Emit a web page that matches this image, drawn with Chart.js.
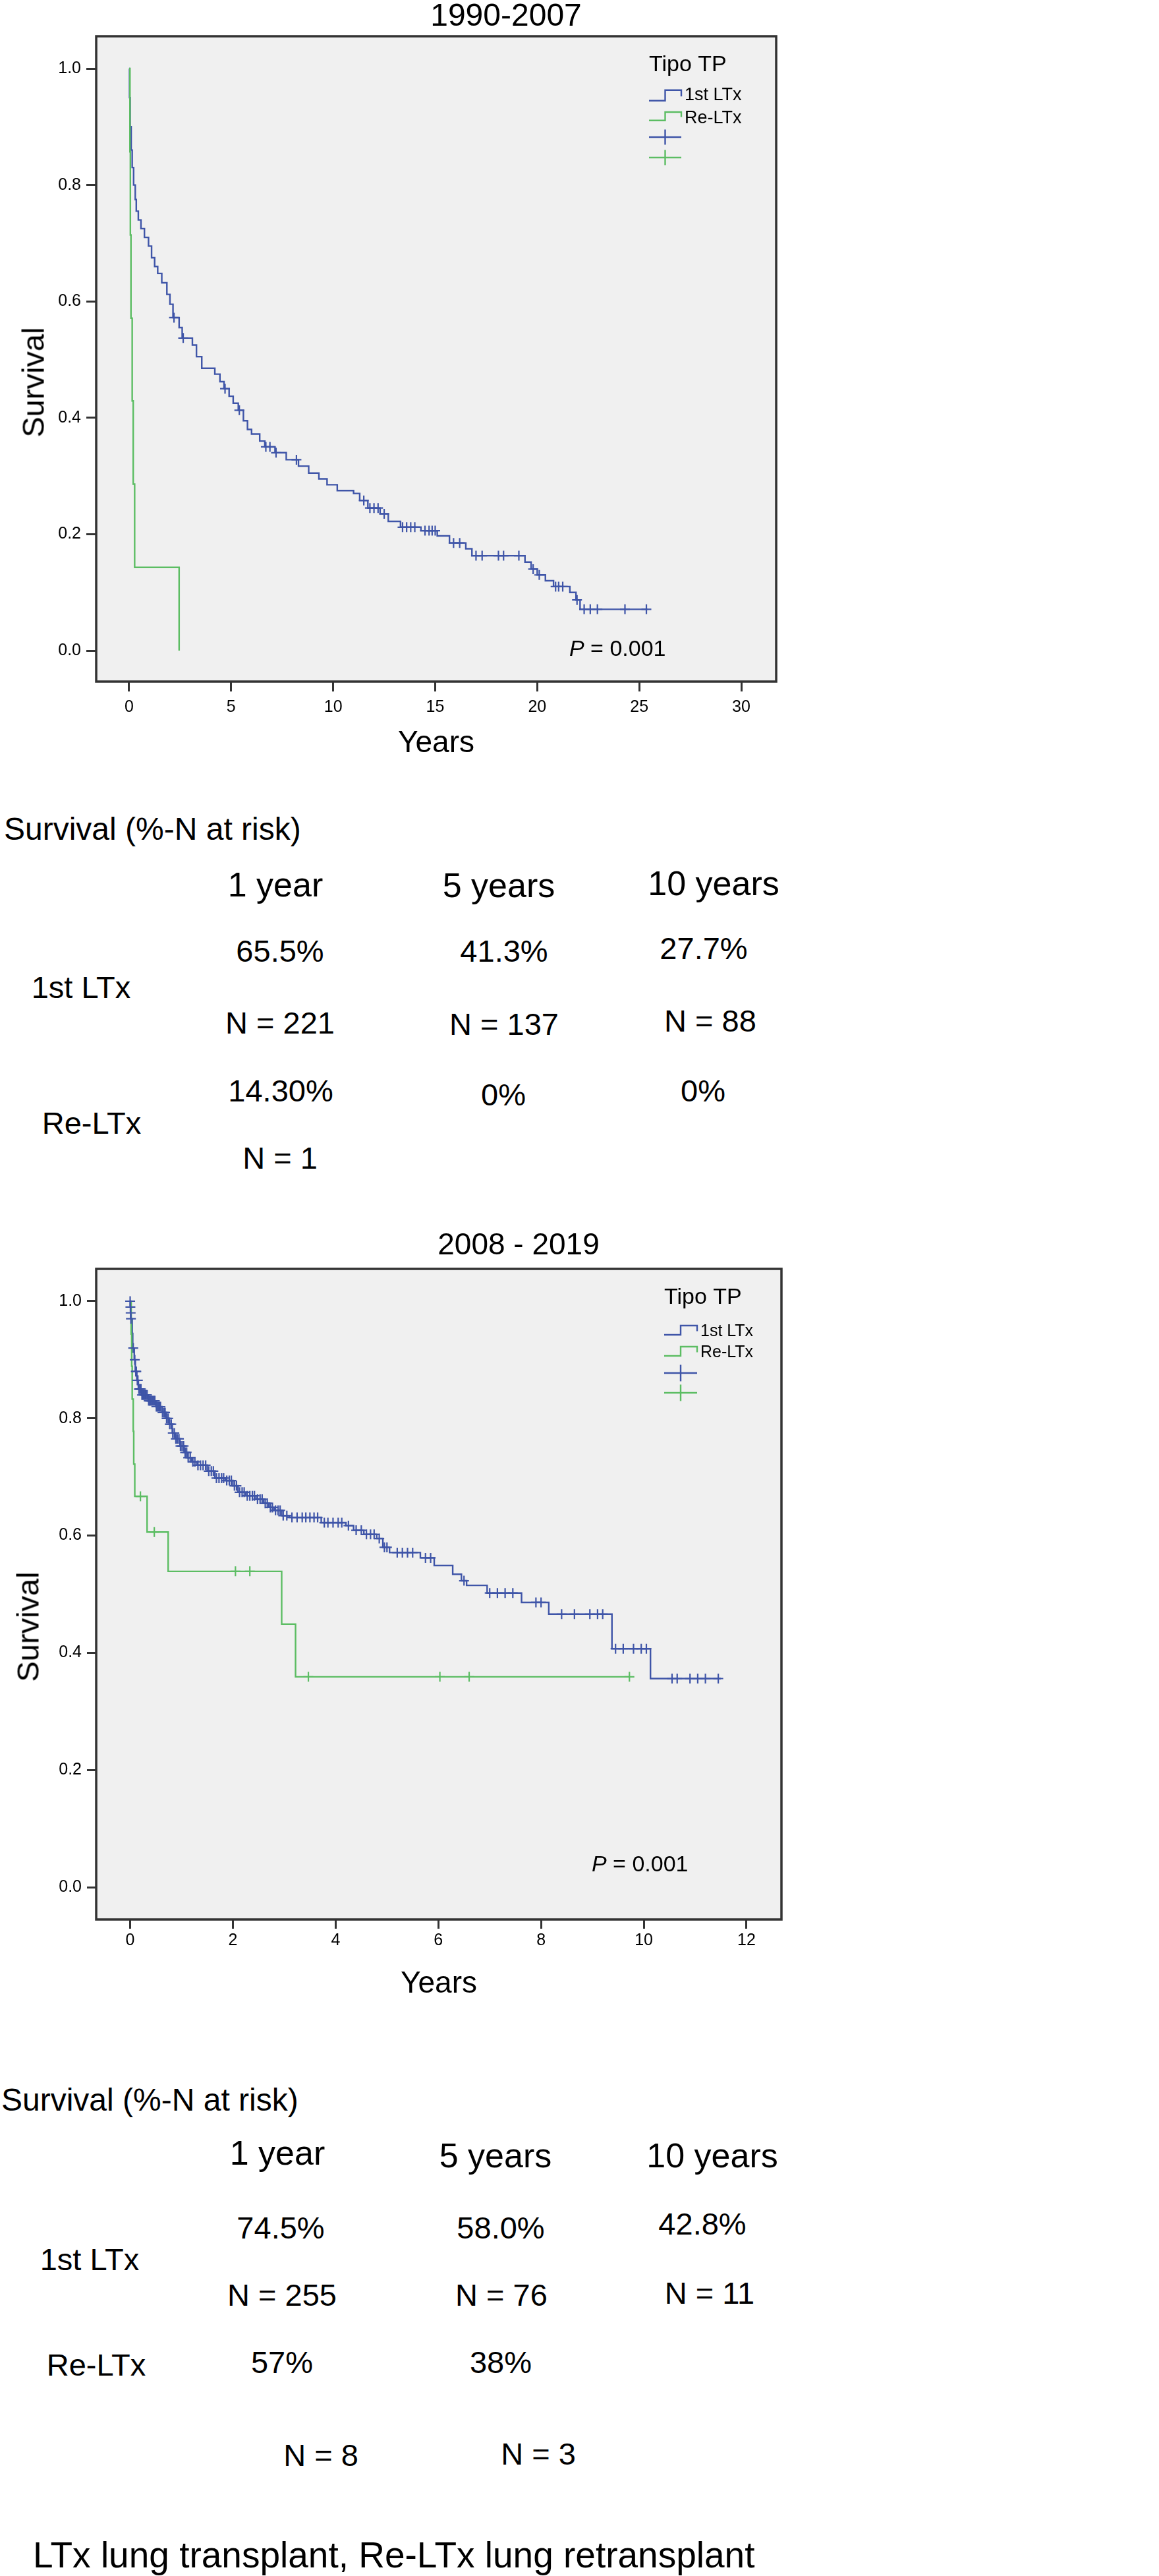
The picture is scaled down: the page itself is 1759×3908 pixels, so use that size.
<!DOCTYPE html>
<html><head><meta charset="utf-8">
<script src="https://cdn.jsdelivr.net/npm/chart.js@4.4.1/dist/chart.umd.min.js"></script>
<style>
html,body{margin:0;padding:0;background:#fff;}
body{width:1759px;height:3908px;position:relative;overflow:hidden;font-family:"Liberation Sans",Arial,Helvetica,sans-serif;color:#000;}
canvas{position:absolute;left:0;}
.t{position:absolute;white-space:nowrap;transform:translate(-50%,-50%);line-height:1;}
.l{position:absolute;white-space:nowrap;transform:translateY(-50%);line-height:1;}
.yt{position:absolute;white-space:nowrap;transform:translate(-50%,-50%) rotate(-90deg);line-height:1;font-size:47px;}
.h{font-size:52px;}
.v{font-size:47px;}
</style></head><body>
<canvas id="c1" width="1536" height="1170" style="top:0px"></canvas>
<canvas id="c2" width="1574" height="1220" style="top:1840px"></canvas>

<div class="yt" style="left:50px;top:580px">Survival</div>
<div class="yt" style="left:42px;top:2468px">Survival</div>

<!-- table 1990-2007 -->
<div class="l" style="left:6px;top:1258px;font-size:48px">Survival (%-N at risk)</div>
<div class="t h" style="left:418px;top:1342px">1 year</div>
<div class="t h" style="left:757px;top:1343px">5 years</div>
<div class="t h" style="left:1083px;top:1340px">10 years</div>
<div class="t v" style="left:425px;top:1442px">65.5%</div>
<div class="t v" style="left:765px;top:1442px">41.3%</div>
<div class="t v" style="left:1068px;top:1438px">27.7%</div>
<div class="t v" style="left:123px;top:1497px">1st LTx</div>
<div class="t v" style="left:425px;top:1551px">N = 221</div>
<div class="t v" style="left:765px;top:1553px">N = 137</div>
<div class="t v" style="left:1078px;top:1548px">N = 88</div>
<div class="t v" style="left:426px;top:1654px">14.30%</div>
<div class="t v" style="left:764px;top:1660px">0%</div>
<div class="t v" style="left:1067px;top:1654px">0%</div>
<div class="t v" style="left:139px;top:1703px">Re-LTx</div>
<div class="t v" style="left:425px;top:1756px">N = 1</div>

<!-- table 2008-2019 -->
<div class="l" style="left:2px;top:3186px;font-size:48px">Survival (%-N at risk)</div>
<div class="t h" style="left:421px;top:3266px">1 year</div>
<div class="t h" style="left:752px;top:3270px">5 years</div>
<div class="t h" style="left:1081px;top:3270px">10 years</div>
<div class="t v" style="left:426px;top:3379px">74.5%</div>
<div class="t v" style="left:760px;top:3379px">58.0%</div>
<div class="t v" style="left:1066px;top:3373px">42.8%</div>
<div class="t v" style="left:136px;top:3427px">1st LTx</div>
<div class="t v" style="left:428px;top:3481px">N = 255</div>
<div class="t v" style="left:761px;top:3481px">N = 76</div>
<div class="t v" style="left:1077px;top:3478px">N = 11</div>
<div class="t v" style="left:146px;top:3587px">Re-LTx</div>
<div class="t v" style="left:428px;top:3583px">57%</div>
<div class="t v" style="left:760px;top:3583px">38%</div>
<div class="t v" style="left:487px;top:3724px">N = 8</div>
<div class="t v" style="left:817px;top:3722px">N = 3</div>

<div class="l" style="left:50px;top:3876px;font-size:55px">LTx lung transplant, Re-LTx lung retransplant</div>

<script>
// ---------- data ----------
const seriesLabels = ['1st LTx', 'Re-LTx'];
const legendTitle = 'Tipo TP';
const pText = '= 0.001';
const yTicks = [0, 0.2, 0.4, 0.6, 0.8, 1.0];
const xTicks1 = [0, 5, 10, 15, 20, 25, 30];
const xTicks2 = [0, 2, 4, 6, 8, 10, 12];

// 1990-2007, 1st LTx (event times, survival)
const t1Blue = [0,0.02,0.05,0.1,0.15,0.22,0.3,0.35,0.45,0.58,0.75,0.95,1.1,1.25,1.4,1.6,1.85,2.0,2.15,2.45,2.6,3.1,3.3,3.56,4.2,4.45,4.65,4.9,5.1,5.35,5.6,5.8,6.0,6.4,6.65,7.15,7.7,8.3,8.8,9.3,9.7,10.2,11.0,11.3,11.7,12.3,12.7,13.3,14.3,15.1,15.7,16.5,16.8,19.4,19.7,20.0,20.4,20.8,21.6,21.9,22.1,25.4];
const s1Blue = [1.0,0.95,0.90,0.86,0.83,0.80,0.775,0.755,0.74,0.725,0.71,0.695,0.675,0.66,0.648,0.632,0.612,0.595,0.572,0.555,0.537,0.525,0.505,0.485,0.475,0.462,0.45,0.437,0.425,0.413,0.395,0.38,0.372,0.36,0.35,0.34,0.328,0.317,0.305,0.295,0.285,0.275,0.27,0.258,0.245,0.235,0.222,0.212,0.206,0.197,0.185,0.175,0.163,0.152,0.14,0.13,0.12,0.11,0.1,0.087,0.071,0.071];
const t1BlueCens = [2.2,2.65,4.7,5.4,6.7,6.9,7.2,8.2,11.5,11.8,12.0,12.2,12.5,13.4,13.6,13.8,14.0,14.5,14.7,14.85,15.0,15.9,16.2,17.0,17.3,18.1,18.35,19.1,19.8,20.1,20.9,21.05,21.25,21.95,22.3,22.6,22.95,24.3,25.35];
const s1BlueCens = [0.572,0.537,0.45,0.413,0.35,0.35,0.34,0.328,0.258,0.245,0.245,0.245,0.235,0.212,0.212,0.212,0.212,0.206,0.206,0.206,0.206,0.185,0.185,0.163,0.163,0.163,0.163,0.163,0.14,0.13,0.11,0.11,0.11,0.087,0.071,0.071,0.071,0.071,0.071];
// 1990-2007, Re-LTx
const t1Green = [0,0.04,0.06,0.09,0.15,0.2,0.27,2.45];
const s1Green = [1.0,0.857,0.714,0.571,0.429,0.286,0.143,0.0];
const t1GreenCens = [];
const s1GreenCens = [];

// 2008-2019, 1st LTx
const t2Blue = [0,0.005,0.01,0.015,0.04,0.05,0.08,0.1,0.13,0.16,0.22,0.35,0.5,0.62,0.7,0.76,0.82,0.88,0.97,1.05,1.12,1.2,1.3,1.5,1.65,1.85,2.0,2.1,2.25,2.45,2.6,2.7,2.8,2.95,3.1,3.72,4.2,4.35,4.55,4.8,4.92,5.05,5.65,5.92,6.28,6.45,6.55,6.95,7.62,8.15,9.38,10.13,11.5];
const s2Blue = [1.0,0.99,0.98,0.97,0.945,0.92,0.90,0.88,0.865,0.85,0.84,0.83,0.82,0.81,0.80,0.79,0.775,0.765,0.753,0.742,0.733,0.726,0.72,0.71,0.698,0.694,0.685,0.674,0.668,0.662,0.655,0.648,0.643,0.634,0.631,0.622,0.617,0.609,0.602,0.595,0.58,0.571,0.562,0.549,0.534,0.523,0.515,0.502,0.486,0.466,0.407,0.356,0.356];
const t2BlueCens = [0,0.005,0.01,0.015,0.06,0.09,0.11,0.12,0.14,0.15,0.17,0.19,0.21,0.23,0.25,0.27,0.29,0.31,0.33,0.36,0.38,0.4,0.42,0.44,0.46,0.48,0.51,0.53,0.55,0.57,0.59,0.63,0.66,0.68,0.71,0.74,0.77,0.8,0.83,0.86,0.89,0.92,0.95,0.98,1.01,1.04,1.07,1.1,1.13,1.17,1.22,1.26,1.32,1.37,1.42,1.47,1.53,1.58,1.62,1.68,1.73,1.78,1.82,1.88,1.93,1.97,2.03,2.07,2.13,2.18,2.22,2.28,2.33,2.38,2.42,2.48,2.53,2.57,2.63,2.67,2.73,2.77,2.83,2.88,2.92,2.98,3.05,3.15,3.25,3.35,3.42,3.5,3.58,3.65,3.78,3.85,3.95,4.05,4.12,4.25,4.4,4.5,4.6,4.68,4.75,4.85,4.95,5.0,5.2,5.3,5.4,5.5,5.75,5.85,6.5,7.0,7.15,7.3,7.45,7.9,8.0,8.4,8.65,8.95,9.1,9.2,9.45,9.6,9.8,9.95,10.05,10.55,10.65,10.9,11.05,11.2,11.45];
const s2BlueCens = [1.0,0.99,0.98,0.97,0.92,0.90,0.88,0.88,0.865,0.865,0.85,0.85,0.85,0.84,0.84,0.84,0.84,0.84,0.84,0.83,0.83,0.83,0.83,0.83,0.83,0.83,0.82,0.82,0.82,0.82,0.82,0.81,0.81,0.81,0.80,0.80,0.79,0.79,0.775,0.775,0.765,0.765,0.765,0.753,0.753,0.753,0.742,0.742,0.733,0.733,0.726,0.726,0.72,0.72,0.72,0.72,0.71,0.71,0.71,0.698,0.698,0.698,0.698,0.694,0.694,0.694,0.685,0.685,0.674,0.674,0.674,0.668,0.668,0.668,0.668,0.662,0.662,0.662,0.655,0.655,0.648,0.648,0.643,0.643,0.643,0.634,0.634,0.631,0.631,0.631,0.631,0.631,0.631,0.631,0.622,0.622,0.622,0.622,0.622,0.617,0.609,0.609,0.602,0.602,0.602,0.595,0.58,0.58,0.571,0.571,0.571,0.571,0.562,0.562,0.523,0.502,0.502,0.502,0.502,0.486,0.486,0.466,0.466,0.466,0.466,0.466,0.407,0.407,0.407,0.407,0.407,0.356,0.356,0.356,0.356,0.356,0.356];
// 2008-2019, Re-LTx
const t2Green = [0,0.02,0.03,0.04,0.06,0.07,0.09,0.33,0.74,2.95,3.22,9.72];
const s2Green = [1.0,0.944,0.889,0.833,0.778,0.722,0.667,0.606,0.539,0.449,0.359,0.359];
const t2GreenCens = [0.2,0.47,2.05,2.33,3.47,6.03,6.6,9.72];
const s2GreenCens = [0.667,0.606,0.539,0.539,0.359,0.359,0.359,0.359];

// ---------- styling ----------
const BLUE = '#3f55a8';
const GREEN = '#5cbd63';
const FONT = "'Liberation Sans', Arial, Helvetica, sans-serif";
Chart.defaults.font.family = FONT;
Chart.defaults.color = '#000';

const zip = (xs, ys) => xs.map((x, i) => ({x: x, y: ys[i]}));

const kmPlugin = {
  id: 'km',
  beforeDraw(chart) {
    const a = chart.chartArea, ctx = chart.ctx;
    ctx.save();
    ctx.fillStyle = '#f0f0f0';
    ctx.fillRect(a.left, a.top, a.right - a.left, a.bottom - a.top);
    ctx.restore();
  },
  afterDraw(chart) {
    const a = chart.chartArea, ctx = chart.ctx;
    const o = chart.options.plugins.km;
    ctx.save();
    ctx.strokeStyle = '#333';
    ctx.lineWidth = 3.5;
    ctx.strokeRect(a.left, a.top, a.right - a.left, a.bottom - a.top);
    // legend
    const L = o.legend;
    const ds = chart.data.datasets;
    ctx.fillStyle = '#000';
    ctx.textBaseline = 'middle';
    ctx.textAlign = 'left';
    ctx.font = L.titleSize + 'px ' + FONT;
    ctx.fillText(legendTitle, L.x, L.titleY);
    ctx.lineWidth = 2.4;
    L.lineRows.forEach((r, i) => {
      const col = ds[i].borderColor;
      ctx.strokeStyle = col;
      const x0 = L.x, x1 = L.x + L.symW, xm = L.x + L.symW / 2;
      ctx.beginPath();
      ctx.moveTo(x0, r[0]); ctx.lineTo(xm, r[0]); ctx.lineTo(xm, r[1]); ctx.lineTo(x1, r[1]);
      ctx.lineTo(x1, r[1] + (r[0] - r[1]) * 0.6);
      ctx.stroke();
      ctx.fillStyle = '#000';
      ctx.font = L.labelSize + 'px ' + FONT;
      ctx.fillText(ds[i].label, x1 + 5, r[2]);
    });
    L.crossRows.forEach((cy, i) => {
      ctx.strokeStyle = ds[i].borderColor;
      const cx = L.x + L.symW / 2;
      ctx.beginPath();
      ctx.moveTo(L.x, cy); ctx.lineTo(L.x + L.symW, cy);
      ctx.moveTo(cx, cy - L.crossHH); ctx.lineTo(cx, cy + L.crossHH);
      ctx.stroke();
    });
    // p value
    const P = o.p;
    ctx.fillStyle = '#000';
    ctx.font = 'italic ' + P.size + 'px ' + FONT;
    ctx.fillText('P', P.x, P.y);
    const w = ctx.measureText('P ').width;
    ctx.font = P.size + 'px ' + FONT;
    ctx.fillText(pText, P.x + w, P.y);
    ctx.restore();
  }
};

function makeChart(id, cfg) {
  const datasets = [
    {label: seriesLabels[0], data: zip(cfg.tb, cfg.sb), showLine: true, stepped: true, borderColor: BLUE, borderWidth: 2.4, pointRadius: 0, fill: false, order: 2},
    {label: seriesLabels[1], data: zip(cfg.tg, cfg.sg), showLine: true, stepped: true, borderColor: GREEN, borderWidth: 2.4, pointRadius: 0, fill: false, order: 1},
    {label: seriesLabels[0] + ' censored', data: zip(cfg.tbc, cfg.sbc), showLine: false, pointStyle: 'cross', pointRadius: cfg.r, borderColor: BLUE, pointBorderColor: BLUE, pointBorderWidth: 2.2, order: 0},
    {label: seriesLabels[1] + ' censored', data: zip(cfg.tgc, cfg.sgc), showLine: false, pointStyle: 'cross', pointRadius: cfg.r, borderColor: GREEN, pointBorderColor: GREEN, pointBorderWidth: 2.2, order: 0}
  ];
  const tickGrid = {display: true, drawOnChartArea: false, drawTicks: true, tickLength: cfg.tickLen, tickWidth: 3, tickColor: '#333'};
  return new Chart(document.getElementById(id), {
    type: 'scatter',
    data: {datasets: datasets},
    options: {
      responsive: false,
      animation: false,
      events: [],
      layout: {padding: 0},
      plugins: {
        legend: {display: false},
        tooltip: {enabled: false},
        title: {display: true, text: cfg.title, color: '#000', font: {size: cfg.titleSize, weight: 'normal', lineHeight: 1}, padding: cfg.titlePad},
        km: {legend: cfg.legend, p: cfg.p}
      },
      scales: {
        x: {
          type: 'linear', position: 'bottom', min: cfg.xMin, max: cfg.xMax,
          afterBuildTicks: s => { s.ticks = cfg.xTicks.map(v => ({value: v})); },
          afterFit: s => { s.height = cfg.xAxisH; },
          ticks: {font: {size: 25}, color: '#000', padding: cfg.xPad, maxRotation: 0, autoSkip: false, callback: v => String(v)},
          grid: tickGrid,
          border: {display: false},
          title: {display: true, text: 'Years', color: '#000', font: {size: 46, lineHeight: 1.2}, padding: {top: 0, bottom: cfg.yearsPad}}
        },
        y: {
          type: 'linear', position: 'left', min: cfg.yMin, max: cfg.yMax,
          afterBuildTicks: s => { s.ticks = yTicks.map(v => ({value: v})); },
          afterFit: s => { s.width = cfg.yAxisW; },
          ticks: {font: {size: 25}, color: '#000', padding: 8, autoSkip: false, callback: v => Number(v).toFixed(1)},
          grid: tickGrid,
          border: {display: false}
        },
        yR: {
          type: 'linear', position: 'right', display: true,
          afterFit: s => { s.width = cfg.rightW; },
          ticks: {display: false},
          grid: {display: false},
          border: {display: false}
        }
      }
    },
    plugins: [kmPlugin]
  });
}

makeChart('c1', {
  title: '1990-2007', titleSize: 48, titlePad: {top: 2, bottom: 5},
  tb: t1Blue, sb: s1Blue, tg: t1Green, sg: s1Green, tbc: t1BlueCens, sbc: s1BlueCens, tgc: t1GreenCens, sgc: s1GreenCens,
  r: 7.5, tickLen: 15, xPad: 9, yearsPad: 14.4,
  xMin: -1.614, xMax: 31.711, yMin: -0.0532, yMax: 1.0555, xTicks: xTicks1,
  xAxisH: 136, yAxisW: 146, rightW: 358,
  legend: {x: 985, titleY: 98.5, titleSize: 34, labelSize: 27, symW: 49, lineRows: [[152.7, 136.7, 145], [182.7, 170, 179.5]], crossRows: [208, 239], crossHH: 11.5},
  p: {x: 864, y: 985.5, size: 34}
});

makeChart('c2', {
  title: '2008 - 2019', titleSize: 46, titlePad: {top: 27, bottom: 12},
  tb: t2Blue, sb: s2Blue, tg: t2Green, sg: s2Green, tbc: t2BlueCens, sbc: s2BlueCens, tgc: t2GreenCens, sgc: s2GreenCens,
  r: 7.5, tickLen: 14, xPad: 3, yearsPad: 22.4,
  xMin: -0.661, xMax: 12.68, yMin: -0.0551, yMax: 1.0551, xTicks: xTicks2,
  xAxisH: 148, yAxisW: 146, rightW: 388,
  legend: {x: 1008, titleY: 128.5, titleSize: 34, labelSize: 25, symW: 50, lineRows: [[185, 171, 180], [217, 203, 212.5]], crossRows: [243, 273], crossHH: 12.5},
  p: {x: 898, y: 990, size: 34}
});
</script>
</body></html>
